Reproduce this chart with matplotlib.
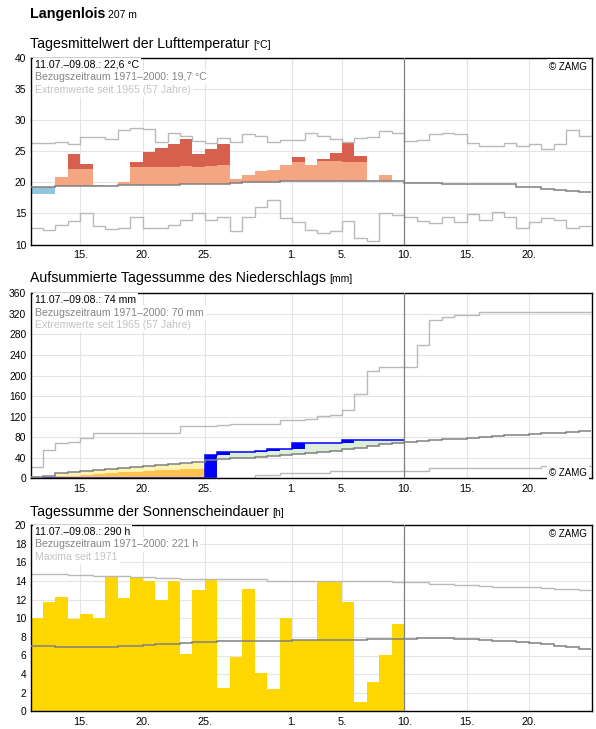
import numpy as np
import matplotlib
matplotlib.use("Agg")
import matplotlib.pyplot as plt

plt.rcParams['font.family'] = ['Liberation Sans', 'DejaVu Sans']

# ---------------- data ----------------
# day index 0 = 11.07., 30 days observed (11.07.-09.08.), axis shows 45 days
tick_days = [4, 9, 14, 21, 25, 30, 35, 40]
tick_labels = ['15.', '20.', '25.', '1.', '5.', '10.', '15.', '20.']
today_day = 30

# temperature (deg C)
temp_obs = [18.2, 18.05, 20.9, 24.6, 23.0, 19.6, 19.4, 20.1, 23.3, 24.95,
            25.6, 26.1, 27.05, 24.6, 25.4, 26.1, 20.5, 21.1, 21.8, 21.95,
            22.75, 24.15, 22.75, 23.8, 24.7, 26.3, 24.3, 20.15, 21.25, 20.15]
temp_thr = [22.0, 22.0, 22.1, 22.2, 22.2, 22.3, 22.3, 22.4, 22.5, 22.5,
            22.5, 22.5, 22.7, 22.5, 22.7, 22.75, 22.8, 22.9, 22.9, 23.0,
            23.0, 23.25, 23.25, 23.4, 23.4, 23.25, 23.25, 23.3, 23.3, 23.3]
temp_mean = [19.25, 19.25, 19.4, 19.4, 19.4, 19.4, 19.4, 19.55, 19.55, 19.55,
             19.55, 19.55, 19.7, 19.7, 19.7, 19.8, 19.9, 20.05, 20.05, 20.05,
             20.15, 20.15, 20.15, 20.15, 20.15, 20.15, 20.15, 20.15, 20.15, 20.15,
             19.92, 19.92, 19.92, 19.8, 19.8, 19.8, 19.8, 19.7, 19.7, 19.25,
             19.25, 18.9, 18.75, 18.65, 18.45]
temp_max = [26.35, 26.35, 26.5, 26.2, 27.3, 27.3, 27.0, 28.4, 28.77, 28.5,
            26.5, 27.96, 27.5, 26.68, 26.35, 27.16, 26.5, 27.7, 27.48, 26.5,
            26.84, 26.84, 27.97, 27.48, 27.0, 26.5, 27.16, 27.37, 28.3, 28.0,
            26.7, 26.8, 27.7, 28.0, 27.7, 26.4, 25.9, 25.9, 26.35, 25.9,
            26.1, 25.4, 26.2, 28.4, 27.5]
temp_min = [12.7, 12.3, 13.2, 13.7, 15.0, 12.96, 12.5, 12.7, 14.4, 12.7,
            12.7, 13.1, 13.9, 15.0, 13.9, 14.4, 12.15, 14.4, 16.0, 17.2,
            14.3, 13.6, 12.4, 11.8, 12.15, 13.8, 11.1, 10.6, 15.0, 14.8,
            14.4, 13.7, 13.4, 14.4, 13.6, 14.9, 13.9, 15.2, 14.4, 12.7,
            13.6, 14.2, 13.9, 12.7, 12.96]

# precipitation (mm)
prec_daily = [0, 0, 0, 1.2, 0, 0, 0, 0, 0, 0,
              0, 0, 0, 0.3, 43.6, 6.5, 0, 0, 0.8, 5.0,
              0, 12.2, 0, 0, 0, 4.6, 0, 0, 0, 0]
prec_dry_thr = [1.0, 2.0, 4.0, 5.0, 6.5, 7.8, 9.7, 12.3, 13.0, 14.3,
                15.6, 17.0, 17.5, 18.2]
prec_clim = [3.2, 5.2, 9.7, 11.7, 14.3, 16.2, 17.5, 20.1, 22.0, 23.3,
             25.3, 27.2, 29.8, 32.4, 34.9, 36.8, 38.7, 40.0, 41.3, 43.2,
             45.1, 47.1, 49.0, 50.9, 53.5, 56.7, 59.9, 63.2, 66.0, 69.0,
             70.4, 72.3, 74.8, 76.0, 76.0, 78.0, 80.0, 82.0, 84.0, 85.0,
             86.5, 87.7, 89.0, 89.7, 91.6]
prec_max = [21.3, 56.0, 68.0, 70.0, 78.0, 88.5, 88.5, 88.5, 88.5, 88.5,
            88.5, 88.5, 102.2, 102.2, 102.2, 104.0, 106.0, 106.0, 106.0, 106.0,
            114.4, 114.4, 116.2, 120.8, 124.0, 133.7, 164.0, 208.4, 216.0, 216.0,
            216.0, 258.7, 308.4, 314.0, 317.4, 317.4, 323.0, 323.0, 323.0, 323.0,
            323.0, 323.0, 323.0, 323.0, 323.0]
prec_min = [0, 0, 0, 0, 0, 0, 0, 0, 0, 0,
            0, 0, 0, 0, 0, 0, 0, 0, 6.5, 6.5,
            9.5, 9.5, 9.5, 9.5, 14.0, 14.0, 14.0, 14.0, 14.0, 14.0,
            14.0, 14.0, 20.0, 20.0, 20.0, 20.0, 20.0, 20.0, 20.0, 20.0,
            20.0, 23.0, 23.0, 23.0, 23.0]

# sunshine duration (h)
sun_obs = [10.04, 11.7, 12.34, 9.9, 10.5, 10.07, 14.5, 12.23, 14.42, 14.06,
           11.94, 14.06, 6.19, 13.02, 14.2, 2.52, 5.86, 13.2, 4.14, 2.45,
           10.07, 7.63, 7.63, 13.85, 13.85, 11.7, 1.04, 3.17, 6.08, 9.42]
sun_mean = [7.05, 7.05, 6.94, 6.94, 6.94, 6.94, 6.94, 7.0, 7.07, 7.16,
            7.23, 7.23, 7.34, 7.48, 7.48, 7.55, 7.55, 7.55, 7.55, 7.55,
            7.55, 7.63, 7.63, 7.63, 7.63, 7.63, 7.63, 7.73, 7.73, 7.8,
            7.8, 7.9, 7.9, 7.9, 7.8, 7.8, 7.66, 7.55, 7.55, 7.45,
            7.34, 7.19, 7.01, 6.9, 6.69]
sun_max = [14.75, 14.75, 14.75, 14.64, 14.64, 14.57, 14.57, 14.57, 14.46, 14.46,
           14.35, 14.35, 14.24, 14.24, 14.24, 14.24, 14.24, 14.24, 14.24, 14.06,
           14.06, 14.06, 14.06, 14.06, 13.96, 13.96, 13.96, 13.96, 13.96, 13.85,
           13.85, 13.85, 13.7, 13.7, 13.6, 13.6, 13.45, 13.38, 13.38, 13.38,
           13.38, 13.24, 13.17, 13.17, 13.06]

# ---------------- styles ----------------
W, H = 596, 729
C_GRID = '#e4e4e4'
C_MEAN = '#808080'
C_EXT = '#b9b9b9'
C_SALMON = '#f4a582'
C_RED = '#d6604d'
C_COLD = '#92c5de'
C_BLUE = '#0000ff'
C_GREEN = '#ddefd8'
C_YELLOW = '#fff3b3'
C_ORANGE = '#ffc44f'
C_SUN = '#ffd700'
FS_YTICK = 7.4
FS_XTICK = 7.8
FS_NOTE = 7.6
FS_TITLE = 10.2
FS_UNIT = 7.5

fig = plt.figure(figsize=(W / 100, H / 100), dpi=100)

XMAX = 45.09
NALL = len(temp_mean)
NOBS = len(temp_obs)
edges_all = np.arange(NALL + 1)
edges_obs = np.arange(NOBS + 1)


def make_ax(top_px, bot_px):
    ax = fig.add_axes([30.5 / W, 1 - bot_px / H, (592.3 - 30.5) / W, (bot_px - top_px) / H])
    ax.set_xlim(0, XMAX)
    ax.set_xticks(tick_days)
    ax.set_xticklabels(tick_labels)
    ax.tick_params(length=0, pad=3)
    ax.tick_params(axis='y', labelsize=FS_YTICK)
    ax.tick_params(axis='x', pad=4.0, labelsize=FS_XTICK)
    for s in ax.spines.values():
        s.set_color('black')
        s.set_linewidth(1.0)
    ax.grid(True, color=C_GRID, lw=0.8, zorder=0)
    ax.set_axisbelow(True)
    ax.axvline(today_day, color=C_MEAN, lw=0.9, zorder=4)
    return ax


def notes(ax, lines, colors):
    for i, (t, c) in enumerate(zip(lines, colors)):
        ax.annotate(t, xy=(0, 1), xycoords='axes fraction',
                    xytext=(4.5, -6.8 - 12.4 * i), textcoords='offset pixels',
                    ha='left', va='center', fontsize=FS_NOTE, color=c, zorder=6,
                    bbox=dict(facecolor='white', edgecolor='none', pad=1.6))


def zamg(ax, top=True):
    if top:
        xy, off = (1, 1), (-5, -8.5)
    else:
        xy, off = (1, 0), (-5, 5.8)
    ax.annotate('\u00a9 ZAMG', xy=xy, xycoords='axes fraction', xytext=off,
                textcoords='offset pixels', ha='right', va='center', fontsize=7.0,
                color='black', zorder=6,
                bbox=dict(facecolor='white', edgecolor='none', pad=1.5))


def title(y_base_px, main, unit):
    t = fig.text(30.5 / W, 1 - y_base_px / H, main, fontsize=FS_TITLE, va='baseline', ha='left')
    fig.canvas.draw()
    bb = t.get_window_extent()
    fig.text((bb.x1 + 3) / W, 1 - y_base_px / H, unit, fontsize=FS_UNIT, va='baseline', ha='left')


# ---------------- header ----------------
t0 = fig.text(30 / W, 1 - 18.3 / H, 'Langenlois', fontsize=10.3, fontweight='bold', va='baseline')
fig.canvas.draw()
bb0 = t0.get_window_extent()
fig.text((bb0.x1 + 3) / W, 1 - 18.3 / H, '207 m', fontsize=7.5, va='baseline')

# ---------------- panel 1: temperature ----------------
title(47.7, 'Tagesmittelwert der Lufttemperatur', '[°C]')
ax1 = make_ax(58.0, 244.5)
ax1.set_ylim(10, 40)
ax1.set_yticks(np.arange(10, 41, 5))
obs = np.array(temp_obs)
mean30 = np.array(temp_mean[:NOBS])
thr = np.array(temp_thr)
warm_top = np.where(obs > mean30, np.minimum(obs, thr), mean30)
ax1.stairs(warm_top, edges_obs, baseline=mean30, fill=True, color=C_SALMON, lw=0, zorder=1)
red_top = np.where(obs > thr, obs, thr)
ax1.stairs(red_top, edges_obs, baseline=thr, fill=True, color=C_RED, lw=0, zorder=1)
cold_bot = np.where(obs < mean30, obs, mean30)
ax1.stairs(mean30, edges_obs, baseline=cold_bot, fill=True, color=C_COLD, lw=0, zorder=1)
ax1.stairs(temp_max, edges_all, baseline=None, color=C_EXT, lw=1.0, zorder=2)
ax1.stairs(temp_min, edges_all, baseline=None, color=C_EXT, lw=1.0, zorder=2)
ax1.stairs(temp_mean, edges_all, baseline=None, color=C_MEAN, lw=1.1, zorder=3)
notes(ax1, ['11.07.\u201309.08.: 22,6 °C', 'Bezugszeitraum 1971\u20132000: 19,7 °C',
            'Extremwerte seit 1965 (57 Jahre)'], ['black', '#858585', '#c3c3c3'])
zamg(ax1, top=True)

# ---------------- panel 2: precipitation ----------------
title(282.3, 'Aufsummierte Tagessumme des Niederschlags', '[mm]')
ax2 = make_ax(293.3, 478.3)
ax2.set_ylim(0, 360)
ax2.set_yticks(np.arange(0, 361, 40))
daily = np.array(prec_daily)
cum = np.cumsum(daily)
prev = cum - daily
clim30 = np.array(prec_clim[:NOBS])
ax2.stairs(np.maximum(clim30, cum), edges_obs, baseline=cum, fill=True, color=C_YELLOW, lw=0, zorder=1)
nthr = len(prec_dry_thr)
ax2.stairs(np.maximum(np.array(prec_dry_thr), cum[:nthr]), np.arange(nthr + 1),
           baseline=cum[:nthr], fill=True, color=C_ORANGE, lw=0, zorder=1)
ax2.stairs(np.maximum(cum, clim30), edges_obs, baseline=clim30, fill=True, color=C_GREEN, lw=0, zorder=1)
wet = daily > 0
ax2.bar(np.arange(NOBS)[wet], daily[wet], bottom=prev[wet], width=1, align='edge',
        color=C_BLUE, lw=0, zorder=2)
ax2.stairs(cum, edges_obs, baseline=None, color=C_BLUE, lw=1.1, zorder=2)
ax2.stairs(prec_max, edges_all, baseline=None, color=C_EXT, lw=1.0, zorder=2)
ax2.stairs(prec_min, edges_all, baseline=None, color=C_EXT, lw=1.0, zorder=2)
ax2.stairs(prec_clim, edges_all, baseline=None, color=C_MEAN, lw=1.1, zorder=3)
notes(ax2, ['11.07.\u201309.08.: 74 mm', 'Bezugszeitraum 1971\u20132000: 70 mm',
            'Extremwerte seit 1965 (57 Jahre)'], ['black', '#858585', '#c3c3c3'])
zamg(ax2, top=False)

# ---------------- panel 3: sunshine ----------------
title(516.0, 'Tagessumme der Sonnenscheindauer', '[h]')
ax3 = make_ax(525.3, 711.3)
ax3.set_ylim(0, 20)
ax3.set_yticks(np.arange(0, 21, 2))
ax3.stairs(sun_obs, edges_obs, baseline=0, fill=True, color=C_SUN, lw=0, zorder=1)
ax3.stairs(sun_max, edges_all, baseline=None, color=C_EXT, lw=1.0, zorder=2)
ax3.stairs(sun_mean, edges_all, baseline=None, color=C_MEAN, lw=1.1, zorder=3)
notes(ax3, ['11.07.\u201309.08.: 290 h', 'Bezugszeitraum 1971\u20132000: 221 h',
            'Maxima seit 1971'], ['black', '#858585', '#c3c3c3'])
zamg(ax3, top=True)

fig.savefig('out.png', dpi=100)
